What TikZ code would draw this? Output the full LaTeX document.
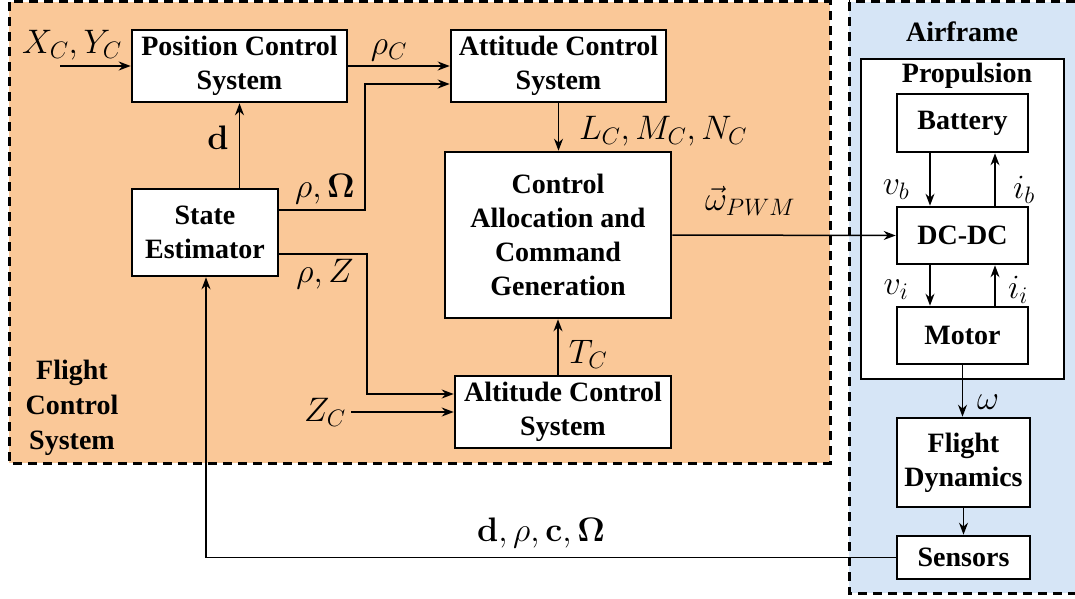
\RequirePackage{fix-cm}
\documentclass[tikz,border=0pt]{standalone}
\usepackage[no-math]{fontspec}
\setmainfont{Liberation Serif}
\usetikzlibrary{arrows.meta}
\definecolor{fcsorange}{RGB}{250,200,152}
\definecolor{airblue}{RGB}{214,229,246}

\begin{document}
\begin{tikzpicture}[x=1pt,y=-1pt,
  blk/.style={draw, line width=2.6pt, fill=white, inner sep=0pt, align=center,
              font=\fontsize{28}{34}\selectfont\bfseries},
  sig/.style={line width=1.5pt, -{Stealth[length=12pt,width=9pt]}},
  lbl/.style={inner sep=0pt, font=\fontsize{34}{40}\selectfont},
  zone/.style={line width=3pt, dash pattern=on 9pt off 6pt},
  ttl/.style={inner sep=0pt, align=center, font=\fontsize{28}{35}\selectfont\bfseries}]

\useasboundingbox (0,0) rectangle (1075,599);
\fill[white] (0,0) rectangle (1075,599);

% subsystem areas (the airframe frame runs on past the right margin)
\draw[zone, fill=fcsorange] (9,2) rectangle (830,463);
\begin{scope}
  \clip (0,0) rectangle (1075,599);
  \draw[zone, fill=airblue] (849,2) rectangle (1076,593);
\end{scope}

\node[ttl] (fcslbl) at (72,408) {Flight\\Control\\System};
\node[ttl] (airlbl) at (962,32) {Airframe};

% flight control blocks
\node[blk, minimum width=215pt, minimum height=72pt] (pos) at (239.5,66) {Position Control\\System};
\node[blk, minimum width=215pt, minimum height=72pt] (att) at (558.5,66) {Attitude Control\\System};
\node[blk, minimum width=146pt, minimum height=87pt] (se) at (205,232.5) {State\\Estimator};
\node[blk, minimum width=226pt, minimum height=166pt] (ca) at (558,235) {Control\\Allocation and\\Command\\Generation};
\node[blk, minimum width=216pt, minimum height=72pt] (alt) at (563,412) {Altitude Control\\System};

% airframe blocks
\node[draw, line width=2.6pt, fill=white, minimum width=203pt, minimum height=320pt] (prop) at (962.5,219) {};
\node[ttl] (proplbl) at (967,76) {Propulsion};
\node[blk, minimum width=131pt, minimum height=58pt] (bat) at (962.5,123) {Battery};
\node[blk, minimum width=131pt, minimum height=57pt] (dcdc) at (962.5,235.5) {DC-DC};
\node[blk, minimum width=131pt, minimum height=57pt] (mot) at (962.5,335.5) {Motor};
\node[blk, minimum width=133pt, minimum height=89pt] (fd) at (963.5,462.5) {Flight\\Dynamics};
\node[blk, minimum width=133pt, minimum height=43pt] (sen) at (963.5,557.5) {Sensors};

% free ends and bends
\coordinate (xin) at (60,66);
\coordinate (zin) at (351,412);
\coordinate (b1) at (365,210);
\coordinate (b1t) at (365,84);
\coordinate (b2) at (367,254);
\coordinate (b2b) at (367,394);
\coordinate (fb) at (206,557.5);

% signals
\draw[sig] (xin) -- (pos.west);
\draw[sig] (pos.east) -- (att.west);
\draw[sig] (se.north -| pos.south) -- (pos.south);
\draw[sig] (se.east |- b1) -- (b1) -- (b1t) -- (att.west |- b1t);
\draw[sig] (se.east |- b2) -- (b2) -- (b2b) -- (alt.west |- b2b);
\draw[sig] (zin) -- (alt.west);
\draw[sig] (att.south) -- (ca.north -| att.south);
\draw[sig] (alt.north -| ca.south) -- (ca.south);
\draw[sig] (ca.east) -- (dcdc.west);
\draw[sig] ([xshift=-32.5pt]bat.south) -- ([xshift=-32.5pt]dcdc.north);
\draw[sig] ([xshift=32.5pt]dcdc.north) -- ([xshift=32.5pt]bat.south);
\draw[sig] ([xshift=-32.5pt]dcdc.south) -- ([xshift=-32.5pt]mot.north);
\draw[sig] ([xshift=32.5pt]mot.north) -- ([xshift=32.5pt]dcdc.south);
\draw[sig] (mot.south) -- (fd.north -| mot.south);
\draw[sig] (fd.south) -- (sen.north);
\draw[sig] (sen.west) -- (fb) -- (se.south -| fb);

% signal labels
\node[lbl] (lxy) at (72,45) {$X_C,Y_C$};
\node[lbl] (lrc) at (389,50) {$\rho_C$};
\node[lbl] (ld) at (218,138) {$\mathbf{d}$};
\node[lbl] (lro) at (325,189) {$\rho,\mathbf{\Omega}$};
\node[lbl] (lrz) at (325,274) {$\rho,Z$};
\node[lbl] (llmn) at (663,131) {$L_C,M_C,N_C$};
\node[lbl] (lpwm) at (750,201) {$\vec{\omega}_{PWM}$};
\node[lbl] (ltc) at (588,354) {$T_C$};
\node[lbl] (lzc) at (325,412) {$Z_C$};
\node[lbl] (lvb) at (896,190) {$v_b$};
\node[lbl] (lib) at (1024,190) {$i_b$};
\node[lbl] (lvi) at (896,290) {$v_i$};
\node[lbl] (lii) at (1018,290) {$i_i$};
\node[lbl] (lw) at (988,402) {$\omega$};
\node[lbl] (lfb) at (541,533) {$\mathbf{d},\rho,\mathbf{c},\mathbf{\Omega}$};
\end{tikzpicture}
\end{document}
